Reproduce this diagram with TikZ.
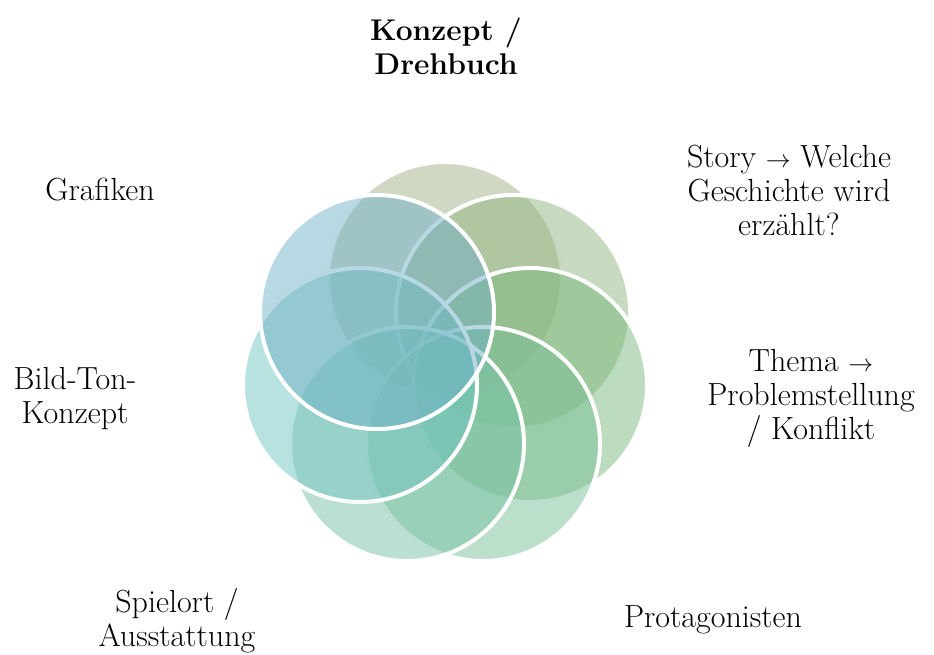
\documentclass[tikz,border=0pt]{standalone}
\definecolor{cA}{RGB}{161,177,137}
\definecolor{cB}{RGB}{143,181,127}
\definecolor{cC}{RGB}{123,183,125}
\definecolor{cD}{RGB}{121,191,151}
\definecolor{cE}{RGB}{119,193,167}
\definecolor{cF}{RGB}{113,197,193}
\definecolor{cG}{RGB}{113,177,199}
\tikzset{
  ring/.style={circle, minimum size=234pt, inner sep=0pt, draw=white, line width=4pt, fill opacity=0.5},
  lbl/.style={align=center, font=\fontsize{32}{34}\selectfont, inner sep=0pt}
}
\begin{document}
\begin{tikzpicture}[x=1pt,y=-1pt]
\useasboundingbox (0,0) rectangle (934,654);
\node[ring, fill=cA] (c1) at (445,279) {};
\node[ring, fill=cB] (c2) at (513,312) {};
\node[ring, fill=cC] (c3) at (530,385) {};
\node[ring, fill=cD] (c4) at (483,444) {};
\node[ring, fill=cE] (c5) at (407,444) {};
\node[ring, fill=cF] (c6) at (360,385) {};
\node[ring, fill=cG] (c7) at (377,312) {};
\node[lbl, font=\fontsize{30}{34}\selectfont\bfseries] (t1) at (446,46) {Konzept /\\Drehbuch};
\node[lbl] (t2) at (789,190) {Story $\rightarrow$ Welche\\Geschichte wird\\erzählt?};
\node[lbl] (t3) at (811,398) {Thema $\rightarrow$\\Problemstellung\\/ Konflikt};
\node[lbl] (t4) at (713,620) {Protagonisten};
\node[lbl] (t5) at (177,621) {Spielort /\\Ausstattung};
\node[lbl] (t6) at (75,399) {Bild-Ton-\\Konzept};
\node[lbl] (t7) at (100,190) {Grafiken};
\end{tikzpicture}
\end{document}
